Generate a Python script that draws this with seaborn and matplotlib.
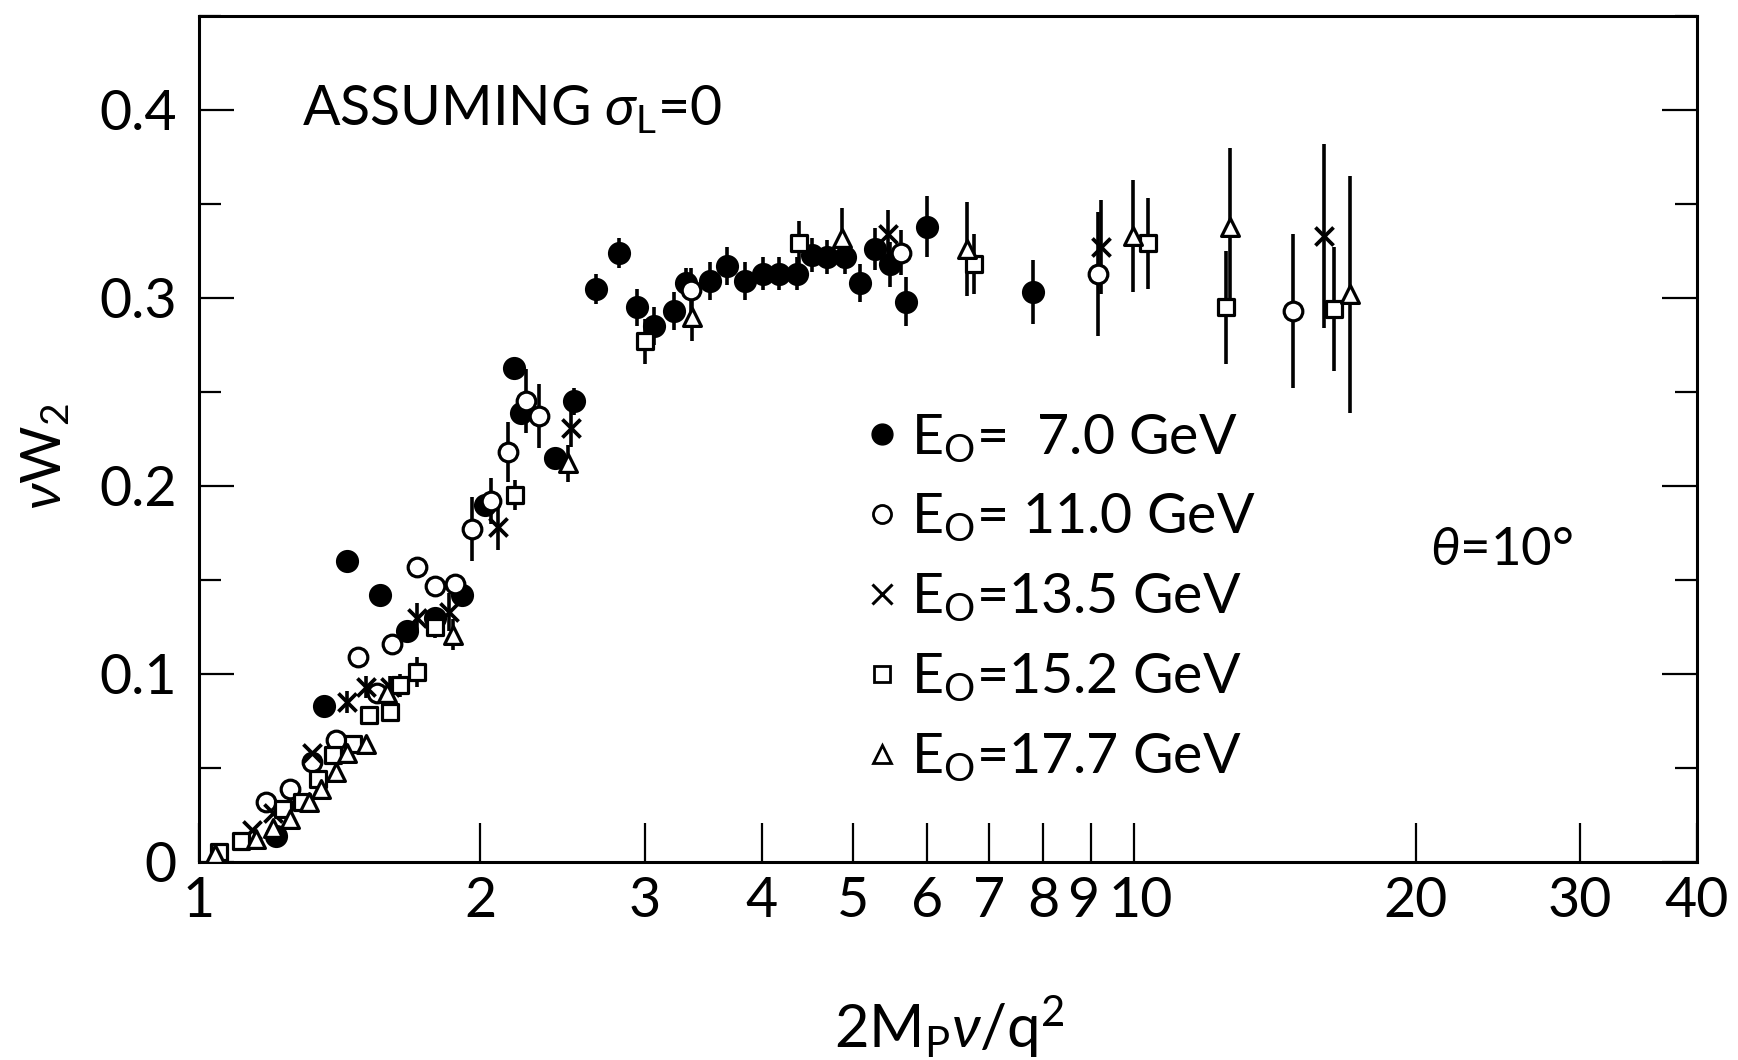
import numpy as np
import pandas as pd
import matplotlib
matplotlib.use("Agg")
import matplotlib.pyplot as plt
from matplotlib.lines import Line2D
from matplotlib.ticker import FixedLocator, NullLocator, MultipleLocator
from matplotlib.transforms import ScaledTranslation
import seaborn as sns

# ---------------- data ----------------
x_70 = [1.21, 1.36, 1.44, 1.56, 1.67, 1.79, 1.91, 2.02, 2.17, 2.21, 2.40, 2.52, 2.66, 2.81, 2.94, 3.07,
        3.22, 3.32, 3.52, 3.67, 3.84, 4.01, 4.17, 4.36, 4.52, 4.69, 4.91, 5.09, 5.28, 5.48, 5.70, 6.00, 7.80]
y_70 = [0.014, 0.083, 0.160, 0.142, 0.123, 0.130, 0.142, 0.190, 0.263, 0.239, 0.215, 0.245, 0.305, 0.324,
        0.295, 0.285, 0.293, 0.308, 0.309, 0.317, 0.309, 0.313, 0.313, 0.313, 0.323, 0.322, 0.322, 0.308,
        0.326, 0.318, 0.298, 0.338, 0.303]
e_70 = [0, 0, 0, 0, 0, 0.005, 0, 0, 0, 0.005, 0, 0.007, 0.008, 0.008, 0.010, 0.010, 0.010, 0.008, 0.010,
        0.010, 0.010, 0.009, 0.009, 0.009, 0.009, 0.009, 0.009, 0.010, 0.011, 0.012, 0.013, 0.016, 0.017]

x_110 = [1.18, 1.25, 1.32, 1.40, 1.48, 1.55, 1.61, 1.71, 1.79, 1.88, 1.96, 2.05, 2.14, 2.24, 2.31, 3.36,
         5.63, 9.14, 14.8]
y_110 = [0.032, 0.039, 0.053, 0.065, 0.109, 0.090, 0.116, 0.157, 0.147, 0.148, 0.177, 0.192, 0.218, 0.245,
         0.237, 0.304, 0.324, 0.313, 0.293]
e_110 = [0, 0, 0, 0, 0, 0, 0, 0, 0, 0, 0.017, 0.012, 0.016, 0.017, 0.017, 0.012, 0.012, 0.033, 0.041]

x_135 = [1.14, 1.20, 1.32, 1.44, 1.51, 1.60, 1.71, 1.85, 2.09, 2.50, 5.46, 9.21, 15.95]
y_135 = [0.017, 0.026, 0.058, 0.085, 0.093, 0.093, 0.130, 0.133, 0.178, 0.231, 0.334, 0.327, 0.333]
e_135 = [0, 0, 0, 0.006, 0.006, 0.006, 0.008, 0.010, 0.012, 0.010, 0.013, 0.025, 0.049]

x_152 = [1.05, 1.11, 1.23, 1.29, 1.34, 1.39, 1.46, 1.52, 1.60, 1.64, 1.71, 1.79, 2.18, 3.00, 4.38, 6.75,
         10.35, 12.55, 16.37]
y_152 = [0.0055, 0.011, 0.028, 0.032, 0.044, 0.057, 0.063, 0.078, 0.080, 0.094, 0.101, 0.125, 0.195, 0.277,
         0.329, 0.318, 0.329, 0.295, 0.294]
e_152 = [0, 0, 0, 0, 0, 0, 0, 0, 0, 0.006, 0.008, 0.006, 0.008, 0.012, 0.012, 0.016, 0.024, 0.030, 0.033]

x_177 = [1.04, 1.15, 1.20, 1.25, 1.31, 1.35, 1.40, 1.44, 1.51, 1.59, 1.87, 2.48, 3.37, 4.87, 6.62, 9.97,
         12.65, 17.02]
y_177 = [0.004, 0.012, 0.018, 0.023, 0.032, 0.039, 0.048, 0.058, 0.063, 0.090, 0.121, 0.212, 0.290, 0.332,
         0.326, 0.333, 0.338, 0.302]
e_177 = [0, 0, 0, 0, 0, 0, 0, 0, 0, 0, 0.008, 0.010, 0.013, 0.016, 0.025, 0.030, 0.042, 0.063]

series_names = ["7.0", "11.0", "13.5", "15.2", "17.7"]
legend_labels = [r"E$_\mathrm{O}$=  7.0 GeV", r"E$_\mathrm{O}$= 11.0 GeV", r"E$_\mathrm{O}$=13.5 GeV",
                 r"E$_\mathrm{O}$=15.2 GeV", r"E$_\mathrm{O}$=17.7 GeV"]
x_ticks = [1, 2, 3, 4, 5, 6, 7, 8, 9, 10, 20, 30, 40]
x_ticklabels = ["1", "2", "3", "4", "5", "6", "7", "8", "9", "10", "20", "30", "40"]
y_ticks = [0, 0.1, 0.2, 0.3, 0.4]
y_ticklabels = ["0", "0.1", "0.2", "0.3", "0.4"]

frames = []
for name, xs, ys, es in zip(series_names, [x_70, x_110, x_135, x_152, x_177],
                            [y_70, y_110, y_135, y_152, y_177],
                            [e_70, e_110, e_135, e_152, e_177]):
    frames.append(pd.DataFrame({"x": xs, "y": ys, "err": es, "series": name}))
df = pd.concat(frames, ignore_index=True)

# ---------------- style ----------------
sns.set_style("ticks")
FONT = ["Lato", "DejaVu Sans"]
plt.rcParams["font.family"] = FONT
plt.rcParams["font.weight"] = "normal"
plt.rcParams["text.color"] = "black"
plt.rcParams["axes.labelcolor"] = "black"
plt.rcParams["xtick.color"] = "black"
plt.rcParams["ytick.color"] = "black"
plt.rcParams["axes.edgecolor"] = "black"
plt.rcParams["mathtext.fontset"] = "custom"
plt.rcParams["mathtext.rm"] = "Lato"
plt.rcParams["mathtext.it"] = "Lato:italic"
plt.rcParams["mathtext.bf"] = "Lato:bold"
FS = 40

fig = plt.figure(figsize=(17.38, 10.60), dpi=100)
ax = fig.add_axes([199 / 1738, 1 - 862 / 1060, (1697 - 199) / 1738, (862 - 16) / 1060])

marker_style = {
    "7.0": dict(marker="o", s=230, facecolor="black", edgecolor="black", linewidth=1.5),
    "11.0": dict(marker="o", s=180, facecolor="white", edgecolor="black", linewidth=2.3),
    "13.5": dict(marker="x", s=170, color="black", linewidth=2.7),
    "15.2": dict(marker="s", s=125, facecolor="white", edgecolor="black", linewidth=2.3),
    "17.7": dict(marker="^", s=165, facecolor="white", edgecolor="black", linewidth=2.3),
}

for name in series_names:
    sub = df[df["series"] == name]
    has = sub[sub["err"] > 0]
    ax.errorbar(has["x"], has["y"], yerr=has["err"], fmt="none", ecolor="black",
                elinewidth=2.6, capsize=0, zorder=2)
for name in series_names:
    sub = df[df["series"] == name]
    sns.scatterplot(data=sub, x="x", y="y", ax=ax, zorder=3, legend=False, **marker_style[name])

ax.set_xscale("log")
ax.set_xlim(1, 40)
ax.set_ylim(0, 0.45)
ax.xaxis.set_major_locator(FixedLocator(x_ticks))
ax.set_xticklabels(x_ticklabels)
ax.xaxis.set_minor_locator(NullLocator())
ax.yaxis.set_major_locator(FixedLocator(y_ticks))
ax.set_yticklabels(y_ticklabels)
ax.yaxis.set_minor_locator(MultipleLocator(0.05))

ax.tick_params(axis="x", which="major", direction="in", length=28, width=1.6, top=False,
               labelsize=FS, pad=10, colors="black")
ax.tick_params(axis="y", which="major", direction="in", length=25, width=1.6, left=True, right=True,
               labelsize=FS, pad=16, colors="black")
ax.tick_params(axis="y", which="minor", direction="in", length=16, width=1.6, left=True, right=True,
               colors="black")
for sp in ax.spines.values():
    sp.set_linewidth(2.2)
    sp.set_color("black")
ax.set_xlabel("")
ax.set_ylabel("")

# nudge the crowded "9" and "10" tick labels apart
for lab in ax.get_xticklabels():
    if lab.get_text() == "9":
        lab.set_transform(lab.get_transform() + ScaledTranslation(-6 / 72, 0, fig.dpi_scale_trans))
    elif lab.get_text() == "10":
        lab.set_transform(lab.get_transform() + ScaledTranslation(5 / 72, 0, fig.dpi_scale_trans))

# texts
ax.text(0.069, 0.871, r"ASSUMING $\sigma_\mathrm{L}$=0", transform=ax.transAxes, fontsize=FS,
        ha="left", va="baseline")
ax.text(0.822, 0.351, r"$\theta$=10°", transform=ax.transAxes, fontsize=FS - 2, ha="left", va="baseline")
fig.text(0.026, 0.569, r"$\nu$W$_2$", rotation=90, fontsize=FS, ha="center", va="center")
fig.text(0.546, 0.031, r"2M$_\mathrm{P}\nu$/q$^2$", fontsize=FS + 3, ha="center", va="center")

handles = [
    Line2D([], [], linestyle="none", marker="o", markersize=15, markerfacecolor="black",
           markeredgecolor="black"),
    Line2D([], [], linestyle="none", marker="o", markersize=13, markerfacecolor="white",
           markeredgecolor="black", markeredgewidth=2),
    Line2D([], [], linestyle="none", marker="x", markersize=15, color="black", markeredgewidth=2.2),
    Line2D([], [], linestyle="none", marker="s", markersize=12, markerfacecolor="white",
           markeredgecolor="black", markeredgewidth=2),
    Line2D([], [], linestyle="none", marker="^", markersize=13, markerfacecolor="white",
           markeredgecolor="black", markeredgewidth=2),
]
fig.legend(handles, legend_labels, loc="center left", bbox_to_anchor=(865 / 1738, 1 - 598 / 1060),
           frameon=False, fontsize=FS, handlelength=0.6, handletextpad=0.22, labelspacing=0.49,
           borderpad=0, borderaxespad=0)

fig.savefig("out.png", dpi=100)
